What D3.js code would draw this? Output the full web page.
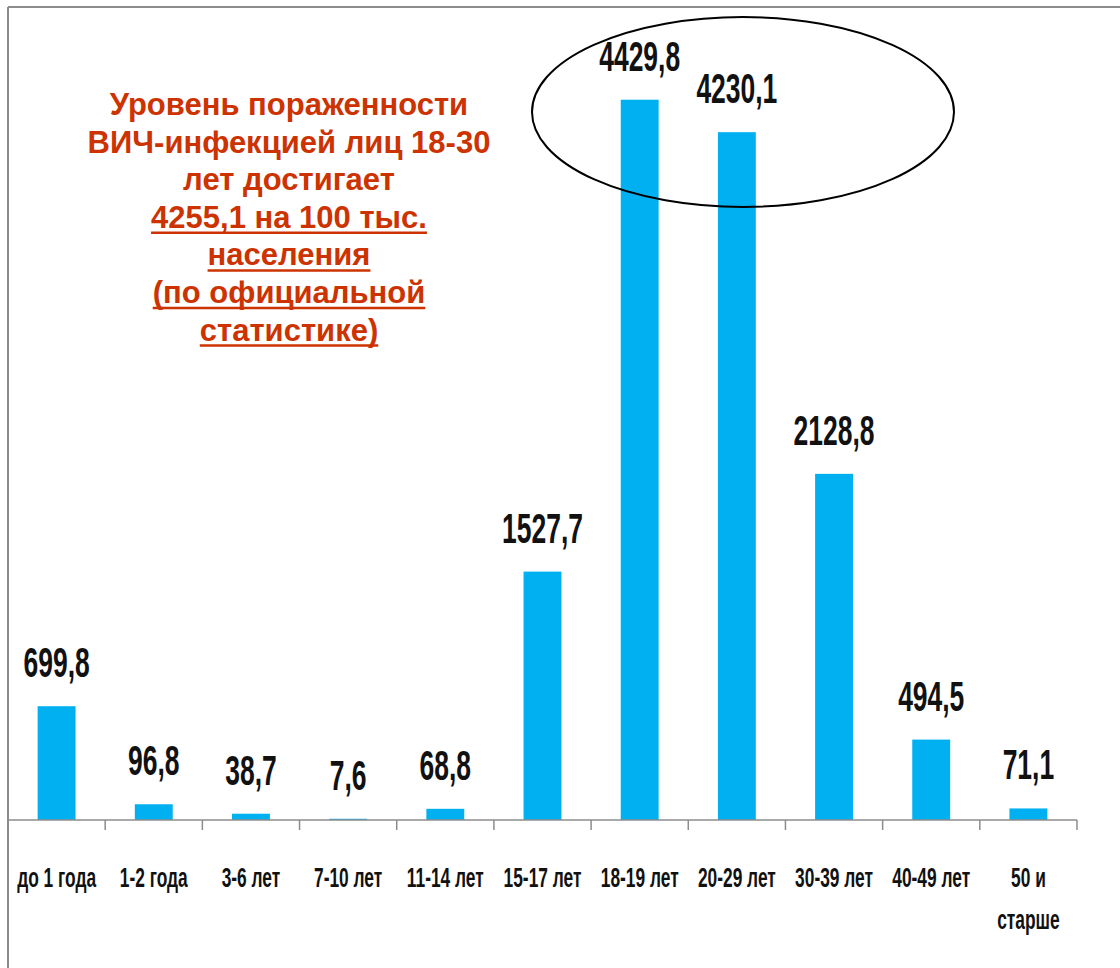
<!DOCTYPE html>
<html>
  <head>
    <meta charset="utf-8">
    <title>ВИЧ по возрастам</title>
    <script src="https://d3js.org/d3.v7.min.js"></script>
    <style>
      body { margin:0; background:#fff; }
    </style>
  </head>
  <body>
    <svg width="1120" height="968"></svg>
    <script>
      var categories = ["до 1 года","1-2 года","3-6 лет","7-10 лет","11-14 лет","15-17 лет","18-19 лет","20-29 лет","30-39 лет","40-49 лет","50 и|старше"]
      var values = [699.8, 96.8, 38.7, 7.6, 68.8, 1527.7, 4429.8, 4230.1, 2128.8, 494.5, 71.1]
      var titleLines = ["Уровень пораженности","ВИЧ-инфекцией лиц 18-30","лет достигает","4255,1 на 100 тыс.","населения","(по официальной","статистике)"]
      var underlineFrom = 3

      var svg = d3.select("svg")
      var baseY = 820

      var x = d3.scaleBand()
        .domain(categories)
        .range([8, 1077])
        .paddingInner(0.61)
        .paddingOuter(0.305)

      var y = d3.scaleLinear()
        .domain([0, 5000])
        .range([baseY, 7])

      // frame (left and top only visible)
      svg.append("line").attr("x1",8).attr("x2",8).attr("y1",7).attr("y2",968)
        .attr("stroke","#8c8c8c").attr("stroke-width",2)
      svg.append("line").attr("x1",8).attr("x2",1120).attr("y1",7).attr("y2",7)
        .attr("stroke","#8c8c8c").attr("stroke-width",2)

      // bars
      svg.selectAll(".bar")
        .data(values)
        .enter()
        .append("rect")
        .attr("x", function(d,i){ return x(categories[i]) })
        .attr("width", x.bandwidth())
        .attr("y", function(d){ return y(d) })
        .attr("height", function(d){ return baseY - y(d) })
        .attr("fill","#00b0f0")

      // axis line and boundary ticks
      svg.append("line").attr("x1",8).attr("x2",1077).attr("y1",baseY).attr("y2",baseY)
        .attr("stroke","#8c8c8c").attr("stroke-width",1.5)
      var step = x.step()
      svg.selectAll(".tick")
        .data(d3.range(categories.length + 1))
        .enter()
        .append("line")
        .attr("x1", function(i){ return 8 + i*step })
        .attr("x2", function(i){ return 8 + i*step })
        .attr("y1", baseY)
        .attr("y2", baseY + 10)
        .attr("stroke","#8c8c8c").attr("stroke-width",1.5)

      // value labels
      svg.selectAll(".val")
        .data(values)
        .enter()
        .append("text")
        .attr("transform", function(d,i){
          return "translate(" + (x(categories[i]) + x.bandwidth()/2) + "," + (y(d) - 29) + ") scale(0.63,1)"
        })
        .attr("text-anchor","middle")
        .attr("font-family","'Liberation Sans', Arial, sans-serif")
        .attr("font-weight","bold")
        .attr("font-size", 42)
        .attr("fill","#111")
        .text(function(d){ return d3.format(".1f")(d).replace(".", ",") })

      // category labels
      categories.forEach(function(c, i){
        var parts = c.split("|")
        parts.forEach(function(p, j){
          svg.append("text")
            .attr("transform","translate(" + (x(c) + x.bandwidth()/2) + "," + (887 + j*42) + ") scale(0.62,1)")
            .attr("text-anchor","middle")
            .attr("font-family","'Liberation Sans', Arial, sans-serif")
            .attr("font-weight","bold")
            .attr("font-size", 28)
            .attr("fill","#111")
            .text(p)
        })
      })

      // annotation text
      titleLines.forEach(function(t, i){
        var ty = 115 + i*37.6
        var txt = svg.append("text")
          .attr("x", 289)
          .attr("y", ty)
          .attr("text-anchor","middle")
          .attr("font-family","'Liberation Sans', Arial, sans-serif")
          .attr("font-weight","bold")
          .attr("font-size", 31)
          .attr("fill","#cc3300")
          .text(t)
        if (i >= underlineFrom) {
          var w = txt.node().getComputedTextLength()
          svg.append("line")
            .attr("x1", 289 - w/2).attr("x2", 289 + w/2)
            .attr("y1", ty + 5).attr("y2", ty + 5)
            .attr("stroke","#cc3300").attr("stroke-width",2.5)
        }
      })

      // ellipse around peak bars
      svg.append("ellipse")
        .attr("cx", 743).attr("cy", 112)
        .attr("rx", 211).attr("ry", 95)
        .attr("fill","none")
        .attr("stroke","#000")
        .attr("stroke-width",2)
    </script>
  </body>
</html>
